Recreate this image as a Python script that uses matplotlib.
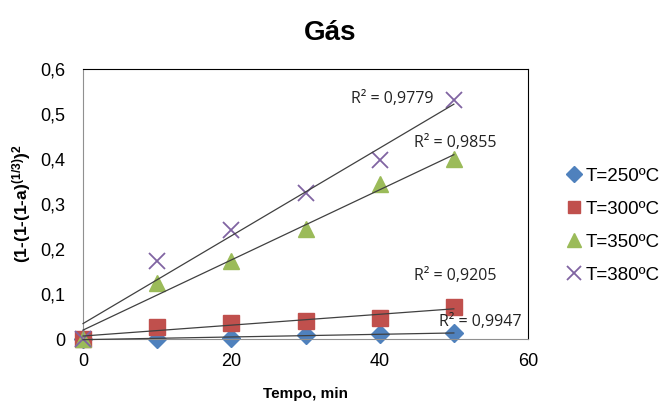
import numpy as np
import matplotlib
matplotlib.use('Agg')
import matplotlib.pyplot as plt

plt.rcParams['font.family'] = ['Liberation Sans', 'DejaVu Sans']
plt.rcParams['mathtext.fontset'] = 'custom'
plt.rcParams['mathtext.rm'] = 'Liberation Sans:bold'
plt.rcParams['mathtext.default'] = 'rm'

# data
tempo = [0, 10, 20, 30, 40, 50]
t250 = [0, 0.0, 0.003, 0.009, 0.011, 0.013]
t300 = [0, 0.027, 0.035, 0.041, 0.046, 0.072]
t350 = [0, 0.125, 0.174, 0.245, 0.344, 0.400]
t380 = [0, 0.173, 0.242, 0.324, 0.398, 0.531]
labels = ['T=250ºC', 'T=300ºC', 'T=350ºC', 'T=380ºC']
r2_text = ['R² = 0,9947', 'R² = 0,9205', 'R² = 0,9855', 'R² = 0,9779']

series = [t250, t300, t350, t380]
colors = ['#4F81BD', '#C0504D', '#9BBB59', '#8064A2']
markers = ['D', 's', '^', 'x']
msizes = [9, 11, 12, 12]
r2_pos = [(53.5, 0.038), (50.2, 0.140), (50.2, 0.436), (41.7, 0.533)]

fig = plt.figure(figsize=(6.6, 4.01), dpi=100)
ax = fig.add_axes([0.1258, 0.1546, 0.6742, 0.6734])

x = np.array(tempo)
for ys, c, m, ms, lab in zip(series, colors, markers, msizes, labels):
    k, b = np.polyfit(x, ys, 1)
    ax.plot([0, 50], [b, k * 50 + b], color='#404040', lw=0.9, zorder=3)
    if m == 'x':
        ax.plot(x, ys, ls='none', marker=m, color=c, ms=ms, mew=1.3, label=lab, zorder=2)
    else:
        ax.plot(x, ys, ls='none', marker=m, color=c, ms=ms, label=lab, zorder=2)

for t, (px, py) in zip(r2_text, r2_pos):
    ax.text(px, py, t, ha='center', va='center', fontsize=11.5,
            family=['Open Sans', 'DejaVu Sans'], color='#222222', zorder=4)

ax.set_xlim(0, 60)
ax.set_ylim(0, 0.6)
ax.set_xticks([0, 20, 40, 60])
ax.set_yticks([0, 0.1, 0.2, 0.3, 0.4, 0.5, 0.6])
ax.set_yticklabels(['0', '0,1', '0,2', '0,3', '0,4', '0,5', '0,6'])
ax.tick_params(length=0, labelsize=13)
ax.tick_params(axis='x', pad=10)
ax.tick_params(axis='y', pad=13)
ax.spines['left'].set_color('#909090')
ax.spines['bottom'].set_color('#909090')
for s in ['top', 'right']:
    ax.spines[s].set_color('black')
for ln in ax.lines:
    ln.set_clip_on(False)

ax.set_xlabel('Tempo, min', fontsize=11, fontweight='bold', labelpad=12)
ax.set_ylabel(r'(1-(1-(1-a)$^{(1/3)}$)$^2$', fontsize=12.5, fontweight='bold', labelpad=5)
fig.suptitle('Gás', fontsize=20, fontweight='bold', x=0.5, y=0.95)

ax.legend(loc='center left', bbox_to_anchor=(1.04, 0.42), frameon=False,
          fontsize=13.5, handletextpad=0.0, labelspacing=0.85, handlelength=1.2,
          markerscale=0.85)

fig.savefig('out.png', dpi=100)
